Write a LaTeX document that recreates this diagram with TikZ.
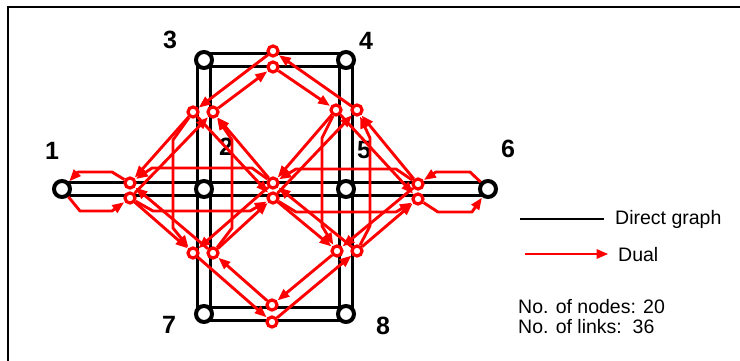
\documentclass[tikz,border=0pt]{standalone}
\usepackage{fontspec}
\setmainfont{Liberation Sans}
\usetikzlibrary{arrows.meta,backgrounds}
\begin{document}
\begin{tikzpicture}[x=1pt,y=-1pt,
  dnode/.style={circle, draw=black, line width=4pt, fill=white, minimum size=16pt, inner sep=0pt},
  rnode/.style={circle, draw=red, line width=3.2pt, fill=white, minimum size=10pt, inner sep=0pt},
  dline/.style={line width=2.9pt, black},
  rarc/.style={red, line width=2.9pt, line join=round, -{Triangle[length=12pt,width=9pt]}, shorten >=0.5pt},
  lbl/.style={font=\fontsize{25}{25}\selectfont\bfseries, inner sep=0pt},
  txt/.style={font=\fontsize{19.5}{20}\selectfont, anchor=base west, inner sep=0pt}]
\useasboundingbox (0,0) rectangle (740,361);
\draw[line width=1.4pt] (8,361) -- (8,7) -- (740,7);
% direct graph nodes
\node[dnode] (n1) at (62,189) {};
\node[dnode] (n2) at (204,189) {};
\node[dnode] (n3) at (204,60) {};
\node[dnode] (n4) at (346,60) {};
\node[dnode] (n5) at (346,189) {};
\node[dnode] (n6) at (488,189) {};
\node[dnode] (n7) at (204,314) {};
\node[dnode] (n8) at (346,314) {};
\begin{scope}[on background layer]
  \foreach \a/\b in {n1/n6, n3/n4, n7/n8} {
    \draw[dline] ([yshift=6.5pt]\a.center) -- ([yshift=6.5pt]\b.center);
    \draw[dline] ([yshift=-6.5pt]\a.center) -- ([yshift=-6.5pt]\b.center);
  }
  \foreach \a/\b in {n3/n7, n4/n8} {
    \draw[dline] ([xshift=6.5pt]\a.center) -- ([xshift=6.5pt]\b.center);
    \draw[dline] ([xshift=-6.5pt]\a.center) -- ([xshift=-6.5pt]\b.center);
  }
\end{scope}
% labels
\node[lbl] (l1) at (52,151) {1};
\node[lbl] (l2) at (226,147) {2};
\node[lbl] (l3) at (170,40) {3};
\node[lbl] (l4) at (366,41) {4};
\node[lbl] (l5) at (364,150) {5};
\node[lbl] (l6) at (508,149) {6};
\node[lbl] (l7) at (169,325) {7};
\node[lbl] (l8) at (383,326) {8};
% dual nodes
\node[rnode] (Lup) at (130,183) {};
\node[rnode] (Ldn) at (130,198) {};
\node[rnode] (Cup) at (273,183) {};
\node[rnode] (Cdn) at (273,198) {};
\node[rnode] (Rup) at (418,184) {};
\node[rnode] (Rdn) at (418,199) {};
\node[rnode] (Tup) at (273,51) {};
\node[rnode] (Tdn) at (273,67) {};
\node[rnode] (Bup) at (272,305) {};
\node[rnode] (Bdn) at (272,322) {};
\node[rnode] (ULl) at (193,112) {};
\node[rnode] (ULr) at (213,112) {};
\node[rnode] (URl) at (336,110) {};
\node[rnode] (URr) at (357,110) {};
\node[rnode] (LLl) at (193,253) {};
\node[rnode] (LLr) at (213,253) {};
\node[rnode] (LRl) at (337,251) {};
\node[rnode] (LRr) at (357,251) {};
% dual links at node 2
\draw[rarc] (Ldn) -- (153,211) -- (250,211) -- (Cdn);
\draw[rarc] (Cup) -- (252,168) -- (152,168) -- (Lup);
\draw[rarc] (ULl) -- (173,140) -- (173,228) -- (LLl);
\draw[rarc] (LLr) -- (232,228) -- (232,140) -- (ULr);
\draw[rarc] (Ldn) -- (ULr);
\draw[rarc] (Ldn) -- (LLl);
\draw[rarc] (ULl) -- (Lup);
\draw[rarc] (ULl) -- (Cdn);
\draw[rarc] (Cup) -- (ULr);
\draw[rarc] (Cup) -- (LLl);
\draw[rarc] (LLr) -- (Lup);
\draw[rarc] (LLr) -- (Cdn);
% dual links at node 5
\draw[rarc] (Cdn) -- (296,212) -- (396,212) -- (Rdn);
\draw[rarc] (Rup) -- (396,169) -- (296,169) -- (Cup);
\draw[rarc] (URl) -- (322,138) -- (322,226) -- (LRl);
\draw[rarc] (LRr) -- (370,226) -- (370,138) -- (URr);
\draw[rarc] (Cdn) -- (URr);
\draw[rarc] (Cdn) -- (LRl);
\draw[rarc] (URl) -- (Cup);
\draw[rarc] (URl) -- (Rdn);
\draw[rarc] (Rup) -- (URr);
\draw[rarc] (Rup) -- (LRl);
\draw[rarc] (LRr) -- (Cup);
\draw[rarc] (LRr) -- (Rdn);
% nodes 3,4,7,8
\draw[rarc] (Tup) -- (ULl);
\draw[rarc] (ULr) -- (Tdn);
\draw[rarc] (Tdn) -- (URl);
\draw[rarc] (URr) -- (Tup);
\draw[rarc] (LLl) -- (Bdn);
\draw[rarc] (Bup) -- (LLr);
\draw[rarc] (Bdn) -- (LRr);
\draw[rarc] (LRl) -- (Bup);
% origin / destination
\draw[rarc] (Lup) -- (112,172) -- (78,172) -- (n1);
\draw[rarc] (n1) -- (80,211) -- (112,211) -- (Ldn);
\draw[rarc] (n6) -- (470,172) -- (436,172) -- (Rup);
\draw[rarc] (Rdn) -- (438,212) -- (472,212) -- (n6);
% legend
\coordinate (gA) at (520,219);
\coordinate (gB) at (604,219);
\coordinate (dA) at (525,254);
\coordinate (dB) at (609,254);
\draw[dline] (gA) -- (gB);
\draw[rarc] (dA) -- (dB);
\node[txt] (tg) at (615,224) {Direct graph};
\node[txt] (td) at (618,261) {Dual};
\node[txt] (tn) at (518,313) {No. of nodes: 20};
\node[txt] (tl) at (518,333) {No. of links:\ \ 36};
\end{tikzpicture}
\end{document}
